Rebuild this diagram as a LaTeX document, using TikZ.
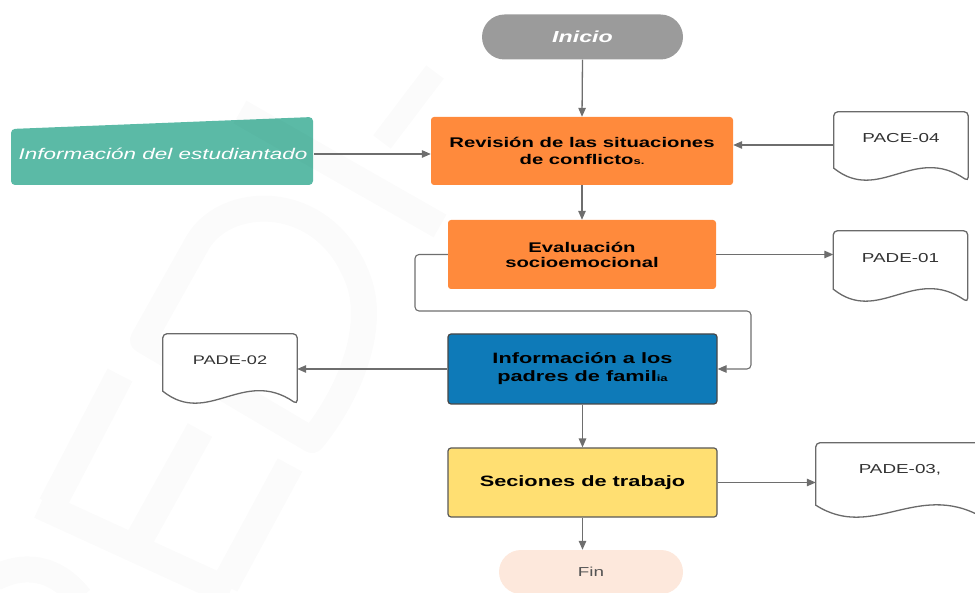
\documentclass[tikz,border=0pt]{standalone}
\usepackage{fontspec}
\setmainfont{Liberation Sans}[FakeStretch=1.45]
\usetikzlibrary{arrows.meta,calc}

\definecolor{inigray}{HTML}{9B9B9B}
\definecolor{procorange}{HTML}{FF8A3C}
\definecolor{estteal}{HTML}{5BBAA6}
\definecolor{infoblue}{HTML}{0E7AB8}
\definecolor{secyellow}{HTML}{FFDF72}
\definecolor{finpeach}{HTML}{FDE8DC}
\definecolor{connline}{HTML}{6E6E6E}
\definecolor{docline}{HTML}{6A6A6A}
\definecolor{doctext}{HTML}{333333}

% outline of a document symbol: straight sides, rounded top, wavy bottom
\newcommand\docoutline[2]{%
  \filldraw[docstroke] (#1.south west) [rounded corners=4pt] -- (#1.north west)
    -- (#1.north east) -- ($(#1.south east)+(0,13)$) [sharp corners]
    .. controls ($(#1.south west)+(0.6*#2,-24)$) and ($(#1.south west)+(0.336*#2,36)$)
    .. (#1.south west) -- cycle;}

\begin{document}
\begin{tikzpicture}[x=1pt,y=-1pt,
  conn/.style={draw=connline, line width=1.3pt, -{Triangle[length=9pt,width=7.5pt]}},
  proc/.style={rectangle, rounded corners=3pt, inner sep=0pt, align=center,
    font=\fontsize{14}{17}\selectfont\bfseries, text=black},
  term/.style={rectangle, inner sep=0pt, align=center},
  docnode/.style={rectangle, inner sep=0pt, text=doctext,
    font=\fontsize{13}{15}\selectfont},
  docstroke/.style={draw=docline, line width=1.3pt, fill=white},
  wmark/.style={draw=black, draw opacity=0.014, line width=26pt}
]
\useasboundingbox (0,0) rectangle (975,593);

% student information block with slanted top edge
\fill[estteal, rounded corners=4pt] (11,129) -- (313,117) -- (313,185) -- (11,185) -- cycle;
\node[term, minimum width=302, minimum height=56, text=white,
  font=\fontsize{15.5}{19}\selectfont\itshape] (est) at (163,154) {Información del estudiantado};

% faint background lettering
\draw[wmark, line width=22pt] (435,72) -- (382,142);
\draw[wmark] (240,112) -- (440,226);
\draw[wmark, line join=round] (143,340) -- (198,242) .. controls (228,192) and (330,192) .. (360,285)
  .. controls (375,335) and (345,400) .. (312,440) -- cycle;
\begin{scope}[transparency group, opacity=0.014]
  \draw[draw=black, line width=28pt]
    (40,505) -- (230,592)
    (52,505) -- (120,375)
    (140,538) -- (200,430)
    (225,585) -- (290,465);
\end{scope}
\draw[wmark] (-5,578) .. controls (30,560) and (60,572) .. (80,598);

% terminals and process steps
\node[term, fill=inigray, rounded corners=22.5pt, minimum width=201, minimum height=45,
  text=white, font=\fontsize{16}{19}\selectfont\bfseries\itshape] (ini) at (582.5,37) {Inicio};

\node[proc, fill=procorange, minimum width=302, minimum height=68] (rev) at (582,151)
  {Revisión de las situaciones\\de conflicto{\fontsize{9}{9}\selectfont s.}};

\node[proc, fill=procorange, minimum width=268, minimum height=69,
  font=\fontsize{14}{15}\selectfont\bfseries] (eva) at (582,254.5)
  {Evaluación\\socioemocional};

\node[proc, fill=infoblue, draw=black!72, line width=1.2pt, minimum width=269, minimum height=70,
  font=\fontsize{15}{18}\selectfont\bfseries] (info) at (582.5,369)
  {Información a los\\padres de famil{\fontsize{9}{9}\selectfont ia}};

\node[proc, fill=secyellow, draw=black!65, line width=1.2pt, minimum width=269, minimum height=69,
  font=\fontsize{15}{18}\selectfont\bfseries] (sec) at (582.5,482.5) {Seciones de trabajo};

\node[term, fill=finpeach, rounded corners=22pt, minimum width=184, minimum height=44,
  text=black!67, font=\fontsize{13}{15}\selectfont] (fin) at (591,572) {Fin};

% documents
\node[docnode, minimum width=134, minimum height=56] (pace) at (901,140) {};
\docoutline{pace}{134}
\node[docnode] at (901,138) {PACE-04};

\node[docnode, minimum width=134, minimum height=58] (pade1) at (900.5,260) {};
\docoutline{pade1}{134}
\node[docnode] at (900.5,258) {PADE-01};

\node[docnode, minimum width=134, minimum height=57] (pade2) at (230,362.5) {};
\docoutline{pade2}{134}
\node[docnode, font=\fontsize{12.5}{14}\selectfont] at (230,360) {PADE-02};

\node[docnode, minimum width=168, minimum height=62] (pade3) at (900,474) {};
\docoutline{pade3}{168}
\node[docnode] at (900,470) {PADE-03,};

% connectors
\coordinate (pacein) at ($(pace.west)+(0,5)$);
\draw[conn] (ini.south) -- (rev.north);
\draw[conn] (est.east) -- (est.east -| rev.west);
\draw[conn] (pacein) -- (pacein -| rev.east);
\draw[conn] (rev.south) -- (eva.north);
\draw[conn] (eva.east) -- (eva.east -| pade1.west);
\coordinate (loopL) at (415,311);
\coordinate (loopR) at (751,311);
\draw[conn, line width=1.1pt, rounded corners=4pt] (eva.west) -| (loopL) -- (loopR) |- (info.east);
\draw[conn] (info.west) -- (info.west -| pade2.east);
\draw[conn] (info.south) -- (sec.north);
\draw[conn] (sec.east) -- (sec.east -| pade3.west);
\draw[conn] (sec.south) -- (sec.south |- fin.north);
\end{tikzpicture}
\end{document}
